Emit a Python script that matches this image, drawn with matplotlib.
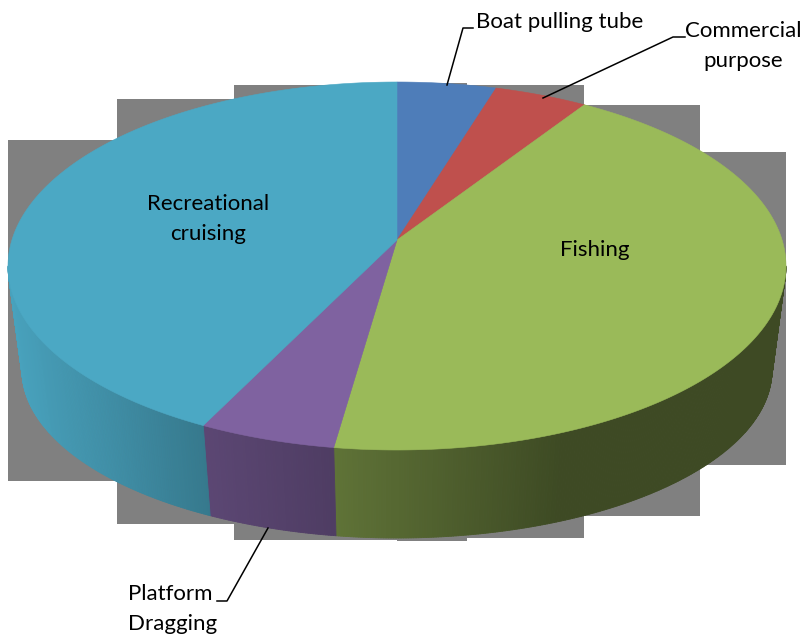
import numpy as np
import matplotlib
matplotlib.use("Agg")
import matplotlib.pyplot as plt
from matplotlib.collections import PolyCollection
from matplotlib.patches import Polygon, Rectangle

# slice shares in percent, clockwise from the top
categories = ["Boat pulling tube", "Commercial\npurpose", "Fishing",
              "Platform\nDragging", "Recreational\ncruising"]
shares = [4.1, 3.9, 44.6, 5.7, 41.7]
colors = ["#4e7db9", "#bf504d", "#9aba59", "#7f62a0", "#4ba8c4"]

# everything below is in image pixels
W, H = 807, 637
CX = 397
APEX_Y = 240
TOP = (389, 184, 266)      # semi x, semi y, centre y of the upper rim
BOTTOM = (375, 168, 370)   # same for the lower rim

# grey boxes that stick out behind the pie (x0, y0, x1, y1)
grey_boxes = [(8, 140, 397, 481), (117, 99, 397, 524), (234, 85, 397, 540),
              (397, 152, 786, 465), (397, 105, 700, 516),
              (397, 85, 584, 538), (397, 83, 467, 541)]

# wall shading, darkening from left to right
shade_x = [8, 110, 208, 333, 560, 786]
shade_f = [0.97, 0.85, 0.72, 0.62, 0.40, 0.40]


def rim(t, ell):
    a, b, cy = ell
    return CX + a * np.sin(t), cy - b * np.cos(t)


plt.rcParams["font.family"] = "Lato"

fig = plt.figure(figsize=(W / 100, H / 100), dpi=100)
ax = fig.add_axes([0, 0, 1, 1])
ax.set_xlim(0, W)
ax.set_ylim(H, 0)
ax.axis("off")

for x0, y0, x1, y1 in grey_boxes:
    ax.add_patch(Rectangle((x0, y0), x1 - x0, y1 - y0, fc="#808080", ec="none", zorder=1))

edges = np.radians(np.cumsum([0] + shares) * 3.6)

# outer wall, only the front half can be seen
for start, end, col in zip(edges[:-1], edges[1:], colors):
    lo, hi = max(start, np.pi / 2), min(end, 3 * np.pi / 2)
    if hi <= lo:
        continue
    ts = np.linspace(lo, hi, max(int((hi - lo) * 150), 2))
    x_top, y_top = rim(ts, TOP)
    x_bot, y_bot = rim(ts, BOTTOM)
    quads, fills = [], []
    base = np.array(matplotlib.colors.to_rgb(col))
    for i in range(len(ts) - 1):
        quads.append([(x_top[i], y_top[i]), (x_top[i + 1], y_top[i + 1]),
                      (x_bot[i + 1], y_bot[i + 1]), (x_bot[i], y_bot[i])])
        fills.append(base * np.interp((x_top[i] + x_bot[i]) / 2, shade_x, shade_f))
    ax.add_collection(PolyCollection(quads, facecolors=fills, edgecolors=fills,
                                     linewidths=0.6, zorder=2))

# upper face
for start, end, col in zip(edges[:-1], edges[1:], colors):
    ts = np.linspace(start, end, 200)
    x, y = rim(ts, TOP)
    pts = [(CX, APEX_Y)] + list(zip(x, y))
    ax.add_patch(Polygon(pts, closed=True, fc=col, ec=col, lw=0.4, zorder=3))

# leader lines
ax.plot([447, 463, 473], [85, 28, 28], color="black", lw=1.1, zorder=4)
ax.plot([543, 673, 685], [98, 37, 37], color="black", lw=1.1, zorder=4)
ax.plot([268, 227, 217], [528, 601, 601], color="black", lw=1.1, zorder=4)

FS = 16
LS = 1.62
ax.text(476, 22, categories[0], fontsize=FS, ha="left", va="center")
ax.text(743, 46, categories[1], fontsize=FS, ha="center", va="center", linespacing=LS)
ax.text(595, 250, categories[2], fontsize=FS, ha="center", va="center")
ax.text(128, 609, categories[3], fontsize=FS, ha="left", va="center", linespacing=LS)
ax.text(208, 219, categories[4], fontsize=FS, ha="center", va="center", linespacing=LS)

fig.savefig("out.png", dpi=100)
